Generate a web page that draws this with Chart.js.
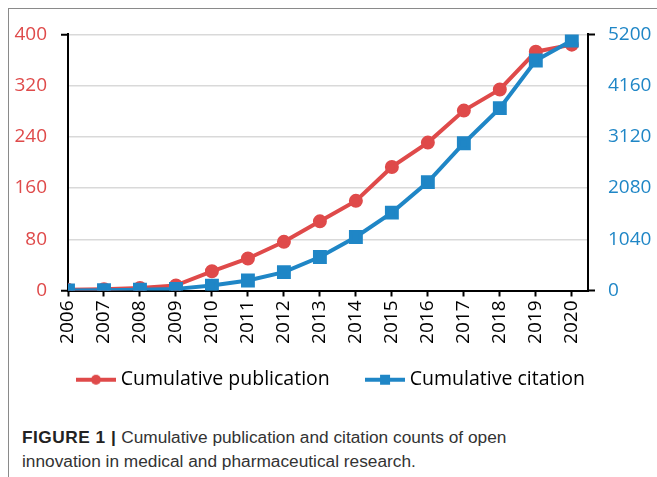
<!DOCTYPE html>
<html>
<head>
<meta charset="utf-8">
<script src="https://cdn.jsdelivr.net/npm/chart.js@4"></script>
<style>
  body { margin: 0; background: #fff; width: 657px; height: 477px; overflow: hidden; position: relative; }
  #frame { position: absolute; left: 8px; top: 8px; width: 660px; height: 480px; border-left: 1px solid #8a8a8a; border-top: 1px solid #8a8a8a; }
  #chart { position: absolute; left: 9px; top: 9px; }
  #caption { position: absolute; left: 22px; top: 425px; font-family: "Liberation Sans", Arial, sans-serif; font-size: 17.3px; line-height: 24px; color: #333; }
  #caption b { color: #222; letter-spacing: 0.5px; }
</style>
</head>
<body>
<div id="frame"></div>
<canvas id="chart" width="648" height="402"></canvas>
<div id="caption"><b>FIGURE 1 |</b> Cumulative publication and citation counts of open<br>innovation in medical and pharmaceutical research.</div>
<script>
const years = [2006, 2007, 2008, 2009, 2010, 2011, 2012, 2013, 2014, 2015, 2016, 2017, 2018, 2019, 2020];
const publications = [1, 2, 4, 8, 30, 50, 76, 108, 140, 193, 231, 281, 314, 373, 384];
const citations = [0, 5, 15, 33, 100, 204, 373, 679, 1087, 1582, 2200, 2990, 3703, 4670, 5077];
const leftTicks = [0, 80, 160, 240, 320, 400];
const rightTicks = [0, 1040, 2080, 3120, 4160, 5200];

const red = '#df4a4a';
const blue = '#1f86c6';
const font = { family: 'Open Sans', size: 19 };
const legendFont = { family: 'Open Sans', size: 19.5 };

// little line + marker pictures for the legend
function legendIcon(color, square) {
  const c = document.createElement('canvas');
  c.width = 40; c.height = 14;
  const g = c.getContext('2d');
  g.strokeStyle = color; g.lineWidth = 4;
  g.beginPath(); g.moveTo(0, 7); g.lineTo(40, 7); g.stroke();
  g.fillStyle = color;
  if (square) g.fillRect(15, 2, 10, 10);
  else { g.beginPath(); g.arc(20, 7, 5, 0, Math.PI * 2); g.fill(); }
  return c;
}

new Chart(document.getElementById('chart'), {
  type: 'line',
  data: {
    datasets: [{
      label: 'Cumulative publication',
      data: years.map((y, i) => ({ x: y, y: publications[i] })),
      borderColor: red,
      backgroundColor: red,
      borderWidth: 4,
      pointRadius: 5,
      pointHoverRadius: 5,
      yAxisID: 'y',
      order: 1,
    }, {
      label: 'Cumulative citation',
      data: years.map((y, i) => ({ x: y, y: citations[i] })),
      borderColor: blue,
      backgroundColor: blue,
      borderWidth: 4,
      pointStyle: 'rect',
      pointRadius: 7,
      pointHoverRadius: 7,
      yAxisID: 'y1',
      order: 0,
    }],
  },
  options: {
    responsive: false,
    animation: false,
    devicePixelRatio: 1,
    layout: { padding: { top: 24, bottom: 11.5, left: 0, right: 0 } },
    plugins: {
      tooltip: { enabled: false },
      legend: {
        position: 'bottom',
        labels: {
          usePointStyle: true,
          pointStyleWidth: 30,
          padding: 20,
          color: '#000',
          font: legendFont,
          generateLabels: () => [
            { text: 'Cumulative publication    ', pointStyle: legendIcon(red, false), fillStyle: red, strokeStyle: red, lineWidth: 0, datasetIndex: 0, fontColor: '#000' },
            { text: 'Cumulative citation', pointStyle: legendIcon(blue, true), fillStyle: blue, strokeStyle: blue, lineWidth: 0, datasetIndex: 1, fontColor: '#000' },
          ],
        },
      },
    },
    scales: {
      x: {
        type: 'linear',
        min: 2006,
        max: 2020.45,
        afterBuildTicks: s => { s.ticks = years.map(v => ({ value: v })); },
        afterFit: s => { s.height = 59.5; },
        ticks: {
          autoSkip: false,
          minRotation: 90,
          maxRotation: 90,
          padding: 4,
          color: '#000',
          font: font,
          callback: v => String(v),
        },
        grid: { drawOnChartArea: false, tickLength: 6, tickColor: '#000', tickWidth: 2 },
        border: { color: '#000', width: 2 },
      },
      y: {
        position: 'left',
        min: 0,
        max: 400,
        afterBuildTicks: s => { s.ticks = leftTicks.map(v => ({ value: v })); },
        afterFit: s => { s.width = 59; },
        ticks: { color: red, font: font, padding: 14, callback: v => String(v) },
        grid: {
          color: c => (c.tick && c.tick.value === 0) ? 'rgba(0,0,0,0)' : '#d9d9d9',
          lineWidth: 1.5,
          tickLength: 7,
          tickWidth: 2,
          tickColor: c => (c.tick && (c.tick.value === 400 || c.tick.value === 0)) ? '#000' : 'rgba(0,0,0,0)',
        },
        border: { color: '#000', width: 2 },
      },
      y1: {
        position: 'right',
        min: 0,
        max: 5200,
        afterBuildTicks: s => { s.ticks = rightTicks.map(v => ({ value: v })); },
        afterFit: s => { s.width = 69; },
        ticks: { color: blue, font: font, padding: 13, callback: v => String(v) },
        grid: {
          drawOnChartArea: false,
          tickLength: 7,
          tickWidth: 2,
          tickColor: c => (c.tick && (c.tick.value === 5200 || c.tick.value === 0)) ? '#000' : 'rgba(0,0,0,0)',
        },
        border: { color: '#000', width: 2 },
      },
    },
  },
});
</script>
</body>
</html>
